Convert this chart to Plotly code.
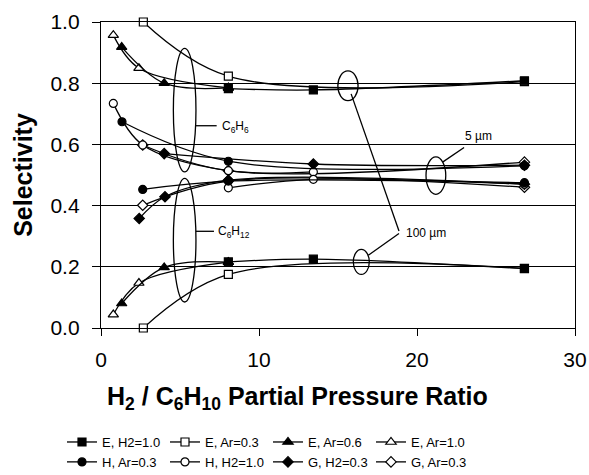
import plotly.graph_objects as go

# ---- data ----
# E, H2=1.0 (filled square)
e_h2_10_x = [8.06, 13.44, 26.8]
e_h2_10_c6h6 = [0.782, 0.778, 0.808]
e_h2_10_c6h12 = [0.216, 0.225, 0.194]
# E, Ar=0.3 (open square)
e_ar_03_x = [2.68, 8.06, 26.8]
e_ar_03_c6h6 = [1.0, 0.823, 0.805]
e_ar_03_c6h12 = [0.0, 0.175, 0.195]
# E, Ar=0.6 (filled triangle)
e_ar_06_x = [1.31, 4.0, 8.06]
e_ar_06_c6h6 = [0.918, 0.800, 0.785]
e_ar_06_c6h12 = [0.080, 0.198, 0.215]
# E, Ar=1.0 (open triangle)
e_ar_10_x = [0.78, 2.4, 8.06]
e_ar_10_c6h6 = [0.957, 0.849, 0.785]
e_ar_10_c6h12 = [0.044, 0.147, 0.215]
# H, Ar=0.3 (filled circle)
h_ar_03_x6 = [1.33, 8.06, 26.8]
h_ar_03_c6h6 = [0.674, 0.545, 0.530]
h_ar_03_x12 = [2.64, 8.06, 26.8]
h_ar_03_c6h12 = [0.453, 0.480, 0.475]
# H, H2=1.0 (open circle)
h_h2_10_x6 = [0.78, 2.64, 8.06, 13.44]
h_h2_10_c6h6 = [0.734, 0.598, 0.514, 0.510]
h_h2_10_x12 = [8.06, 13.44, 26.8]
h_h2_10_c6h12 = [0.458, 0.486, 0.470]
# G, H2=0.3 (filled diamond)
g_h2_03_x6 = [4.0, 13.44, 26.8]
g_h2_03_c6h6 = [0.570, 0.536, 0.532]
g_h2_03_x12 = [2.42, 4.05, 8.06, 26.8]
g_h2_03_c6h12 = [0.358, 0.429, 0.483, 0.470]
# G, Ar=0.3 (open diamond)
g_ar_03_x = [2.64, 8.06, 26.8]
g_ar_03_c6h6 = [0.598, 0.514, 0.542]
g_ar_03_c6h12 = [0.401, 0.480, 0.460]

x_ticks = [0, 10, 20, 30]
y_ticks = [0.0, 0.2, 0.4, 0.6, 0.8, 1.0]

series = [
    ("E, H2=1.0", "square", True, e_h2_10_x, e_h2_10_c6h6, e_h2_10_x, e_h2_10_c6h12),
    ("E, Ar=0.3", "square", False, e_ar_03_x, e_ar_03_c6h6, e_ar_03_x, e_ar_03_c6h12),
    ("E, Ar=0.6", "triangle-up", True, e_ar_06_x, e_ar_06_c6h6, e_ar_06_x, e_ar_06_c6h12),
    ("E, Ar=1.0", "triangle-up", False, e_ar_10_x, e_ar_10_c6h6, e_ar_10_x, e_ar_10_c6h12),
    ("H, Ar=0.3", "circle", True, h_ar_03_x6, h_ar_03_c6h6, h_ar_03_x12, h_ar_03_c6h12),
    ("H, H2=1.0", "circle", False, h_h2_10_x6, h_h2_10_c6h6, h_h2_10_x12, h_h2_10_c6h12),
    ("G, H2=0.3", "diamond", True, g_h2_03_x6, g_h2_03_c6h6, g_h2_03_x12, g_h2_03_c6h12),
    ("G, Ar=0.3", "diamond", False, g_ar_03_x, g_ar_03_c6h6, g_ar_03_x, g_ar_03_c6h12),
]

fig = go.Figure()
# draw in reverse so the first series sits on top; legend order kept by legendrank
for rank, (name, sym, filled, x6, y6, x12, y12) in reversed(list(enumerate(series))):
    marker = dict(symbol=sym, size=8 if "triangle" not in sym else 9,
                  color="black" if filled else "white",
                  line=dict(color="black", width=1.2))
    for i, (xx, yy) in enumerate([(x6, y6), (x12, y12)]):
        fig.add_trace(go.Scatter(
            x=xx, y=yy, mode="lines+markers", name=name,
            legendgroup=name, showlegend=(i == 0), legendrank=rank + 1,
            line=dict(color="black", width=1.3, shape="spline", smoothing=1.0),
            marker=marker, cliponaxis=False,
        ))

# ---- ellipse annotations ----
ell = [
    (4.58, 0.510, 6.01, 0.914),
    (4.58, 0.085, 6.01, 0.489),
    (14.99, 0.743, 16.27, 0.840),
    (15.97, 0.175, 16.98, 0.257),
    (20.57, 0.437, 21.82, 0.559),
]
for x0, y0, x1, y1 in ell:
    fig.add_shape(type="circle", xref="x", yref="y", x0=x0, y0=y0, x1=x1, y1=y1,
                  line=dict(color="black", width=1.3))

lines = [
    (6.01, 0.661, 7.32, 0.661),
    (6.01, 0.316, 7.15, 0.316),
    (15.83, 0.765, 18.86, 0.317),
    (16.92, 0.238, 18.86, 0.309),
    (21.62, 0.542, 22.98, 0.590),
]
for x0, y0, x1, y1 in lines:
    fig.add_shape(type="line", xref="x", yref="y", x0=x0, y0=y0, x1=x1, y1=y1,
                  line=dict(color="black", width=1.3))

texts = [
    (7.55, 0.658, "C<sub>6</sub>H<sub>6</sub>"),
    (7.25, 0.313, "C<sub>6</sub>H<sub>12</sub>"),
    (19.15, 0.309, "100 µm"),
    (22.9, 0.626, "5 µm"),
]
for x, y, t in texts:
    fig.add_annotation(x=x, y=y, xref="x", yref="y", text=t, showarrow=False,
                       xanchor="left", yanchor="middle",
                       font=dict(family="Arial, Liberation Sans", size=12, color="black"))

# x-axis title as annotation (centered on figure)
fig.add_annotation(x=0.4146, y=-0.229, xref="paper", yref="paper",
                   text="<b>H<sub>2</sub> / C<sub>6</sub>H<sub>10</sub> Partial Pressure Ratio</b>",
                   showarrow=False, xanchor="center", yanchor="middle",
                   font=dict(family="Arial, Liberation Sans", size=25, color="black"))

fig.update_layout(
    width=589, height=475,
    margin=dict(l=101, r=14, t=22, b=147, pad=0, autoexpand=False),
    paper_bgcolor="white", plot_bgcolor="white",
    font=dict(family="Arial, Liberation Sans", color="black"),
    showlegend=True,
    legend=dict(orientation="h", xref="container", yref="container",
                x=0.455, y=0.101, xanchor="center", yanchor="top",
                font=dict(size=13, color="black"), entrywidth=58, entrywidthmode="pixels",
                itemwidth=30, tracegroupgap=0, bgcolor="rgba(0,0,0,0)",
                traceorder="normal"),
    xaxis=dict(range=[0, 30], tickvals=x_ticks, ticks="outside", ticklen=7, tickwidth=1,
               tickcolor="black", showgrid=False, zeroline=False, showline=True,
               linecolor="black", linewidth=1.3, mirror=True, ticklabelstandoff=6,
               tickfont=dict(size=21, color="black")),
    yaxis=dict(range=[0, 1], tickvals=y_ticks, tickformat=".1f", ticks="outside",
               ticklen=8, tickwidth=1, tickcolor="black", showgrid=True,
               gridcolor="black", gridwidth=1, zeroline=False, showline=True,
               linecolor="black", linewidth=1.3, mirror=True, ticklabelstandoff=8,
               tickfont=dict(size=21, color="black"),
               title=dict(text="<b>Selectivity</b>", font=dict(size=25, color="black"),
                          standoff=10)),
)

fig.write_html("out.html")
